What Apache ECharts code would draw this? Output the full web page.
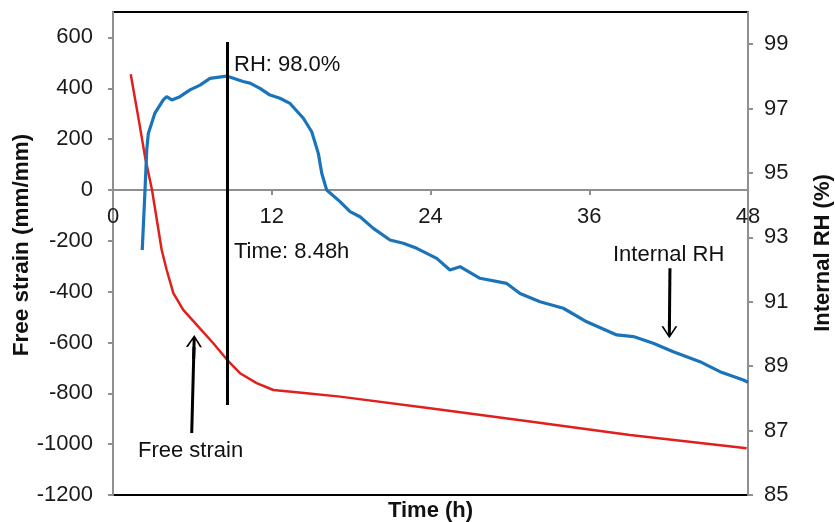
<!DOCTYPE html>
<html>
<head>
<meta charset="utf-8">
<script src="https://cdn.jsdelivr.net/npm/echarts@6/dist/echarts.min.js"></script>
<style>html,body{margin:0;padding:0;background:#fff}#c{width:835px;height:522px}</style>
</head>
<body>
<div id="c"></div>
<script>
// ---- Data ----
const timeStrain = [1.34, 2.0, 2.42, 2.95, 3.68, 4.06, 4.56, 5.31, 6.33, 7.58, 8.64, 9.60, 10.86, 12.12, 14.64, 17.16, 23.96, 31.52, 39.08, 47.9];
const freeStrain = [455, 260, 131, 0, -236, -315, -406, -472, -531, -603, -669, -721, -760, -787, -800, -813, -859, -911, -964, -1016];

const timeRH = [2.21, 2.42, 2.55, 2.67, 3.17, 3.80, 4.06, 4.44, 5.06, 5.82, 6.58, 7.33, 8.59, 9.83, 10.36, 11.11, 11.87, 12.62, 13.38, 14.39, 15.02, 15.52, 15.78, 16.15, 17.16, 17.92, 18.67, 19.68, 20.94, 21.94, 22.96, 24.47, 25.47, 26.23, 27.74, 29.76, 30.77, 32.28, 34.04, 35.81, 38.08, 39.33, 40.84, 42.35, 44.37, 45.88, 47.65, 48.0];
const internalRH = [92.61, 94.47, 95.71, 96.23, 96.86, 97.27, 97.37, 97.27, 97.37, 97.58, 97.73, 97.94, 98.01, 97.84, 97.79, 97.63, 97.42, 97.32, 97.16, 96.70, 96.28, 95.61, 94.99, 94.47, 94.11, 93.80, 93.64, 93.28, 92.92, 92.82, 92.66, 92.35, 91.99, 92.09, 91.73, 91.57, 91.26, 91.00, 90.80, 90.38, 89.97, 89.92, 89.71, 89.45, 89.14, 88.83, 88.57, 88.50];

const xTicks = [0, 12, 24, 36, 48];
const strainTicks = [-1200, -1000, -800, -600, -400, -200, 0, 200, 400, 600];
const rhTicks = [85, 87, 89, 91, 93, 95, 97, 99];

// annotation values
const markTime = 8.65;           // position of vertical marker
const markTop = 582, markBottom = -846;
const strainArrow = {from: [5.95, -956], to: [6.12, -618]};
const rhArrow = {from: [42.1, 92.04], to: [42.06, 90.24]};

const FONT = 'Liberation Sans, Arial, sans-serif';
const arrowPath = 'path://M8,0 L16,12 L14,12 L9.5,5 L9.5,24 L6.5,24 L6.5,5 L2,12 L0,12 Z';

const chart = echarts.init(document.getElementById('c'), null, {renderer: 'canvas'});
const axisGray = '#8f8f8f';
const plain = v => String(v);

function zip(a, b) { return a.map((v, i) => [v, b[i]]); }

const gridTop = 12, gridBottom = 27, chartH = 522;
const plotH = chartH - gridTop - gridBottom;
const yMin = strainTicks[0], yMax = 700;
// shift x axis up to where the left axis equals 0
const xAxisOffset = -plotH * (0 - yMin) / (yMax - yMin);

const option = {
  animation: false,
  backgroundColor: '#fff',
  grid: {left: 113, right: 87, top: gridTop, bottom: gridBottom, show: true, borderColor: '#000', borderWidth: 2, backgroundColor: 'transparent', containLabel: false, outerBoundsMode: 'none'},
  xAxis: {
    type: 'value', min: xTicks[0], max: xTicks[xTicks.length - 1], interval: 12,
    position: 'bottom', offset: xAxisOffset,
    axisLine: {onZero: false, lineStyle: {color: axisGray, width: 2}},
    axisTick: {show: true, length: 5, lineStyle: {color: axisGray, width: 2}},
    axisLabel: {color: '#1a1a1a', fontSize: 22, fontFamily: FONT, margin: 16, showMinLabel: true, showMaxLabel: true, formatter: plain},
    splitLine: {show: false}
  },
  yAxis: [
    {
      type: 'value', min: yMin, max: yMax, interval: 200, position: 'left',
      axisLine: {show: true, onZero: false, lineStyle: {color: axisGray, width: 2}},
      axisTick: {show: true, length: 5, lineStyle: {color: axisGray, width: 2}},
      axisLabel: {color: '#1a1a1a', fontSize: 22, fontFamily: FONT, margin: 20, showMaxLabel: false, formatter: plain},
      splitLine: {show: false}
    },
    {
      type: 'value', min: rhTicks[0], max: 100, interval: 2, position: 'right',
      axisLine: {show: true, onZero: false, lineStyle: {color: axisGray, width: 2}},
      axisTick: {show: true, length: 5, lineStyle: {color: axisGray, width: 2}},
      axisLabel: {color: '#1a1a1a', fontSize: 22, fontFamily: FONT, margin: 16, showMaxLabel: false, formatter: plain},
      splitLine: {show: false}
    }
  ],
  series: [
    {
      name: 'Free strain', type: 'line', yAxisIndex: 0, showSymbol: false, smooth: false,
      data: zip(timeStrain, freeStrain),
      lineStyle: {color: '#e0201d', width: 2.5},
      itemStyle: {color: '#e0201d'},
      silent: true,
      markLine: {
        silent: true, animation: false,
        label: {show: false},
        lineStyle: {color: '#000', width: 3, type: 'solid'},
        emphasis: {disabled: true},
        data: [
          [{coord: [markTime, markTop], symbol: 'none'}, {coord: [markTime, markBottom], symbol: 'none'}],
          [{coord: strainArrow.from, symbol: 'none'}, {coord: strainArrow.to, symbol: arrowPath, symbolSize: [16, 24]}]
        ]
      }
    },
    {
      name: 'Internal RH', type: 'line', yAxisIndex: 1, showSymbol: false, smooth: false,
      data: zip(timeRH, internalRH),
      lineStyle: {color: '#1b74b9', width: 3.2},
      itemStyle: {color: '#1b74b9'},
      silent: true,
      markLine: {
        silent: true, animation: false,
        label: {show: false},
        lineStyle: {color: '#000', width: 3, type: 'solid'},
        emphasis: {disabled: true},
        data: [
          [{coord: rhArrow.from, symbol: 'none'}, {coord: rhArrow.to, symbol: arrowPath, symbolSize: [16, 24]}]
        ]
      }
    }
  ],
  graphic: [
    {type: 'text', left: 234, top: 54, style: {text: 'RH: 98.0%', font: '22px ' + FONT, fill: '#111'}},
    {type: 'text', left: 234, top: 241, style: {text: 'Time: 8.48h', font: '22px ' + FONT, fill: '#111'}},
    {type: 'text', left: 138, top: 440, style: {text: 'Free strain', font: '22px ' + FONT, fill: '#111'}},
    {type: 'text', left: 613, top: 244, style: {text: 'Internal RH', font: '22px ' + FONT, fill: '#111'}},
    {type: 'text', x: 430.5, y: 511, style: {text: 'Time (h)', font: 'bold 22px ' + FONT, fill: '#111', align: 'center', verticalAlign: 'middle'}},
    {type: 'text', x: 22, y: 245, rotation: Math.PI / 2, style: {text: 'Free strain (mm/mm)', font: 'bold 22.5px ' + FONT, fill: '#111', align: 'center', verticalAlign: 'middle'}},
    {type: 'text', x: 823, y: 253, rotation: Math.PI / 2, style: {text: 'Internal RH (%)', font: 'bold 22px ' + FONT, fill: '#111', align: 'center', verticalAlign: 'middle'}}
  ]
};
chart.setOption(option);
</script>
</body>
</html>
